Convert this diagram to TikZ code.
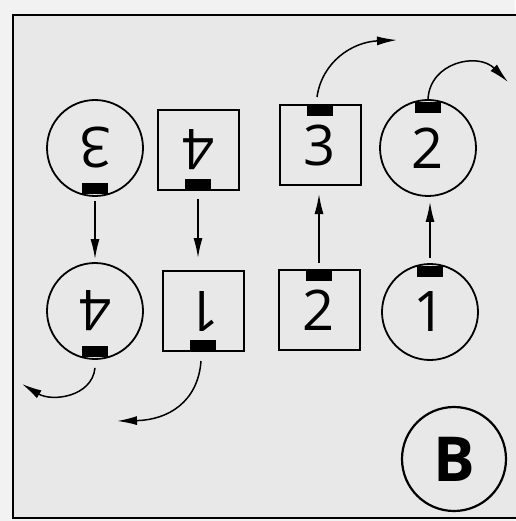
\documentclass[tikz,border=0pt]{standalone}
\usepackage{fontspec}
\setmainfont{Open Sans}
\usepackage{graphicx}
\usetikzlibrary{arrows.meta,calc}

\begin{document}
\begin{tikzpicture}[
  x=1pt, y=-1pt,
  font=\fontsize{56}{56}\selectfont,
  circ/.style={draw, circle, line width=1.8pt, minimum size=96pt, inner sep=0pt},
  sq/.style={draw, line width=2pt, minimum width=81pt, minimum height=80pt, inner sep=0pt},
  tab/.style={fill=black, minimum width=26pt, minimum height=11pt, inner sep=0pt},
  arr/.style={-{Latex[length=20pt,width=9pt]}, line width=1.5pt},
]
\useasboundingbox (0,0) rectangle (515,521);
\fill[black!5] (0,0) rectangle (515,521);
\filldraw[fill=black!9, line width=2pt] (13,15) rectangle (530,518);
% circles and squares, each with its black tab
\foreach \nm/\px/\py/\lbl/\side in {c3/95/148/{\rotatebox{180}{3}}/south, c2/428/148/2/north,
                                    c4/95/311/{\rotatebox{180}{4}}/south, c1/430/312/1/north} {
  \node[circ] (\nm) at (\px,\py) {\lbl};
  \node[tab] (tab\nm) at ($(\nm.center)!0.83!(\nm.\side)$) {};
}
\foreach \nm/\px/\py/\lbl/\side in {s4/198/150/{\rotatebox{180}{4}}/south, s3/320/145/3/north,
                                    s1/203/311/{\rotatebox{180}{1}}/south, s2/319/310/2/north} {
  \node[sq] (\nm) at (\px,\py) {\lbl};
  \node[tab] (tab\nm) at ($(\nm.center)!0.83!(\nm.\side)$) {};
}
\node[circ, minimum size=104pt, line width=2.2pt, font=\fontsize{62}{62}\selectfont\bfseries] (mB) at (454,459) {B};
% straight moves
\draw[arr, shorten <=4pt, shorten >=3pt] (c3) -- (c4);
\draw[arr, shorten <=8pt, shorten >=12pt] (s4.south) -- (s4.south |- s1.north);
\draw[arr, shorten <=6pt, shorten >=8pt] (s2) -- (s2 |- s3.south);
\draw[arr, shorten <=5pt, shorten >=5pt] (c1) -- (c1 |- c2.south);
% curved moves out of the frame
\coordinate (end3) at (397,40);
\coordinate (end2) at (508,82);
\coordinate (end4) at (22,384);
\coordinate (end1) at (117,421);
\draw[arr] ([xshift=-3pt, yshift=7pt]s3.north) .. controls (322,62) and (352,42) .. (end3);
\draw[arr] (c2.north) .. controls (430,62) and (478,52) .. (end2);
\draw[arr] ([yshift=-8pt]c4.south) .. controls (92,397) and (52,402) .. (end4);
\draw[arr] ([xshift=-2pt, yshift=-9pt]s1.south) .. controls (198,402) and (168,420) .. (end1);
\end{tikzpicture}
\end{document}
